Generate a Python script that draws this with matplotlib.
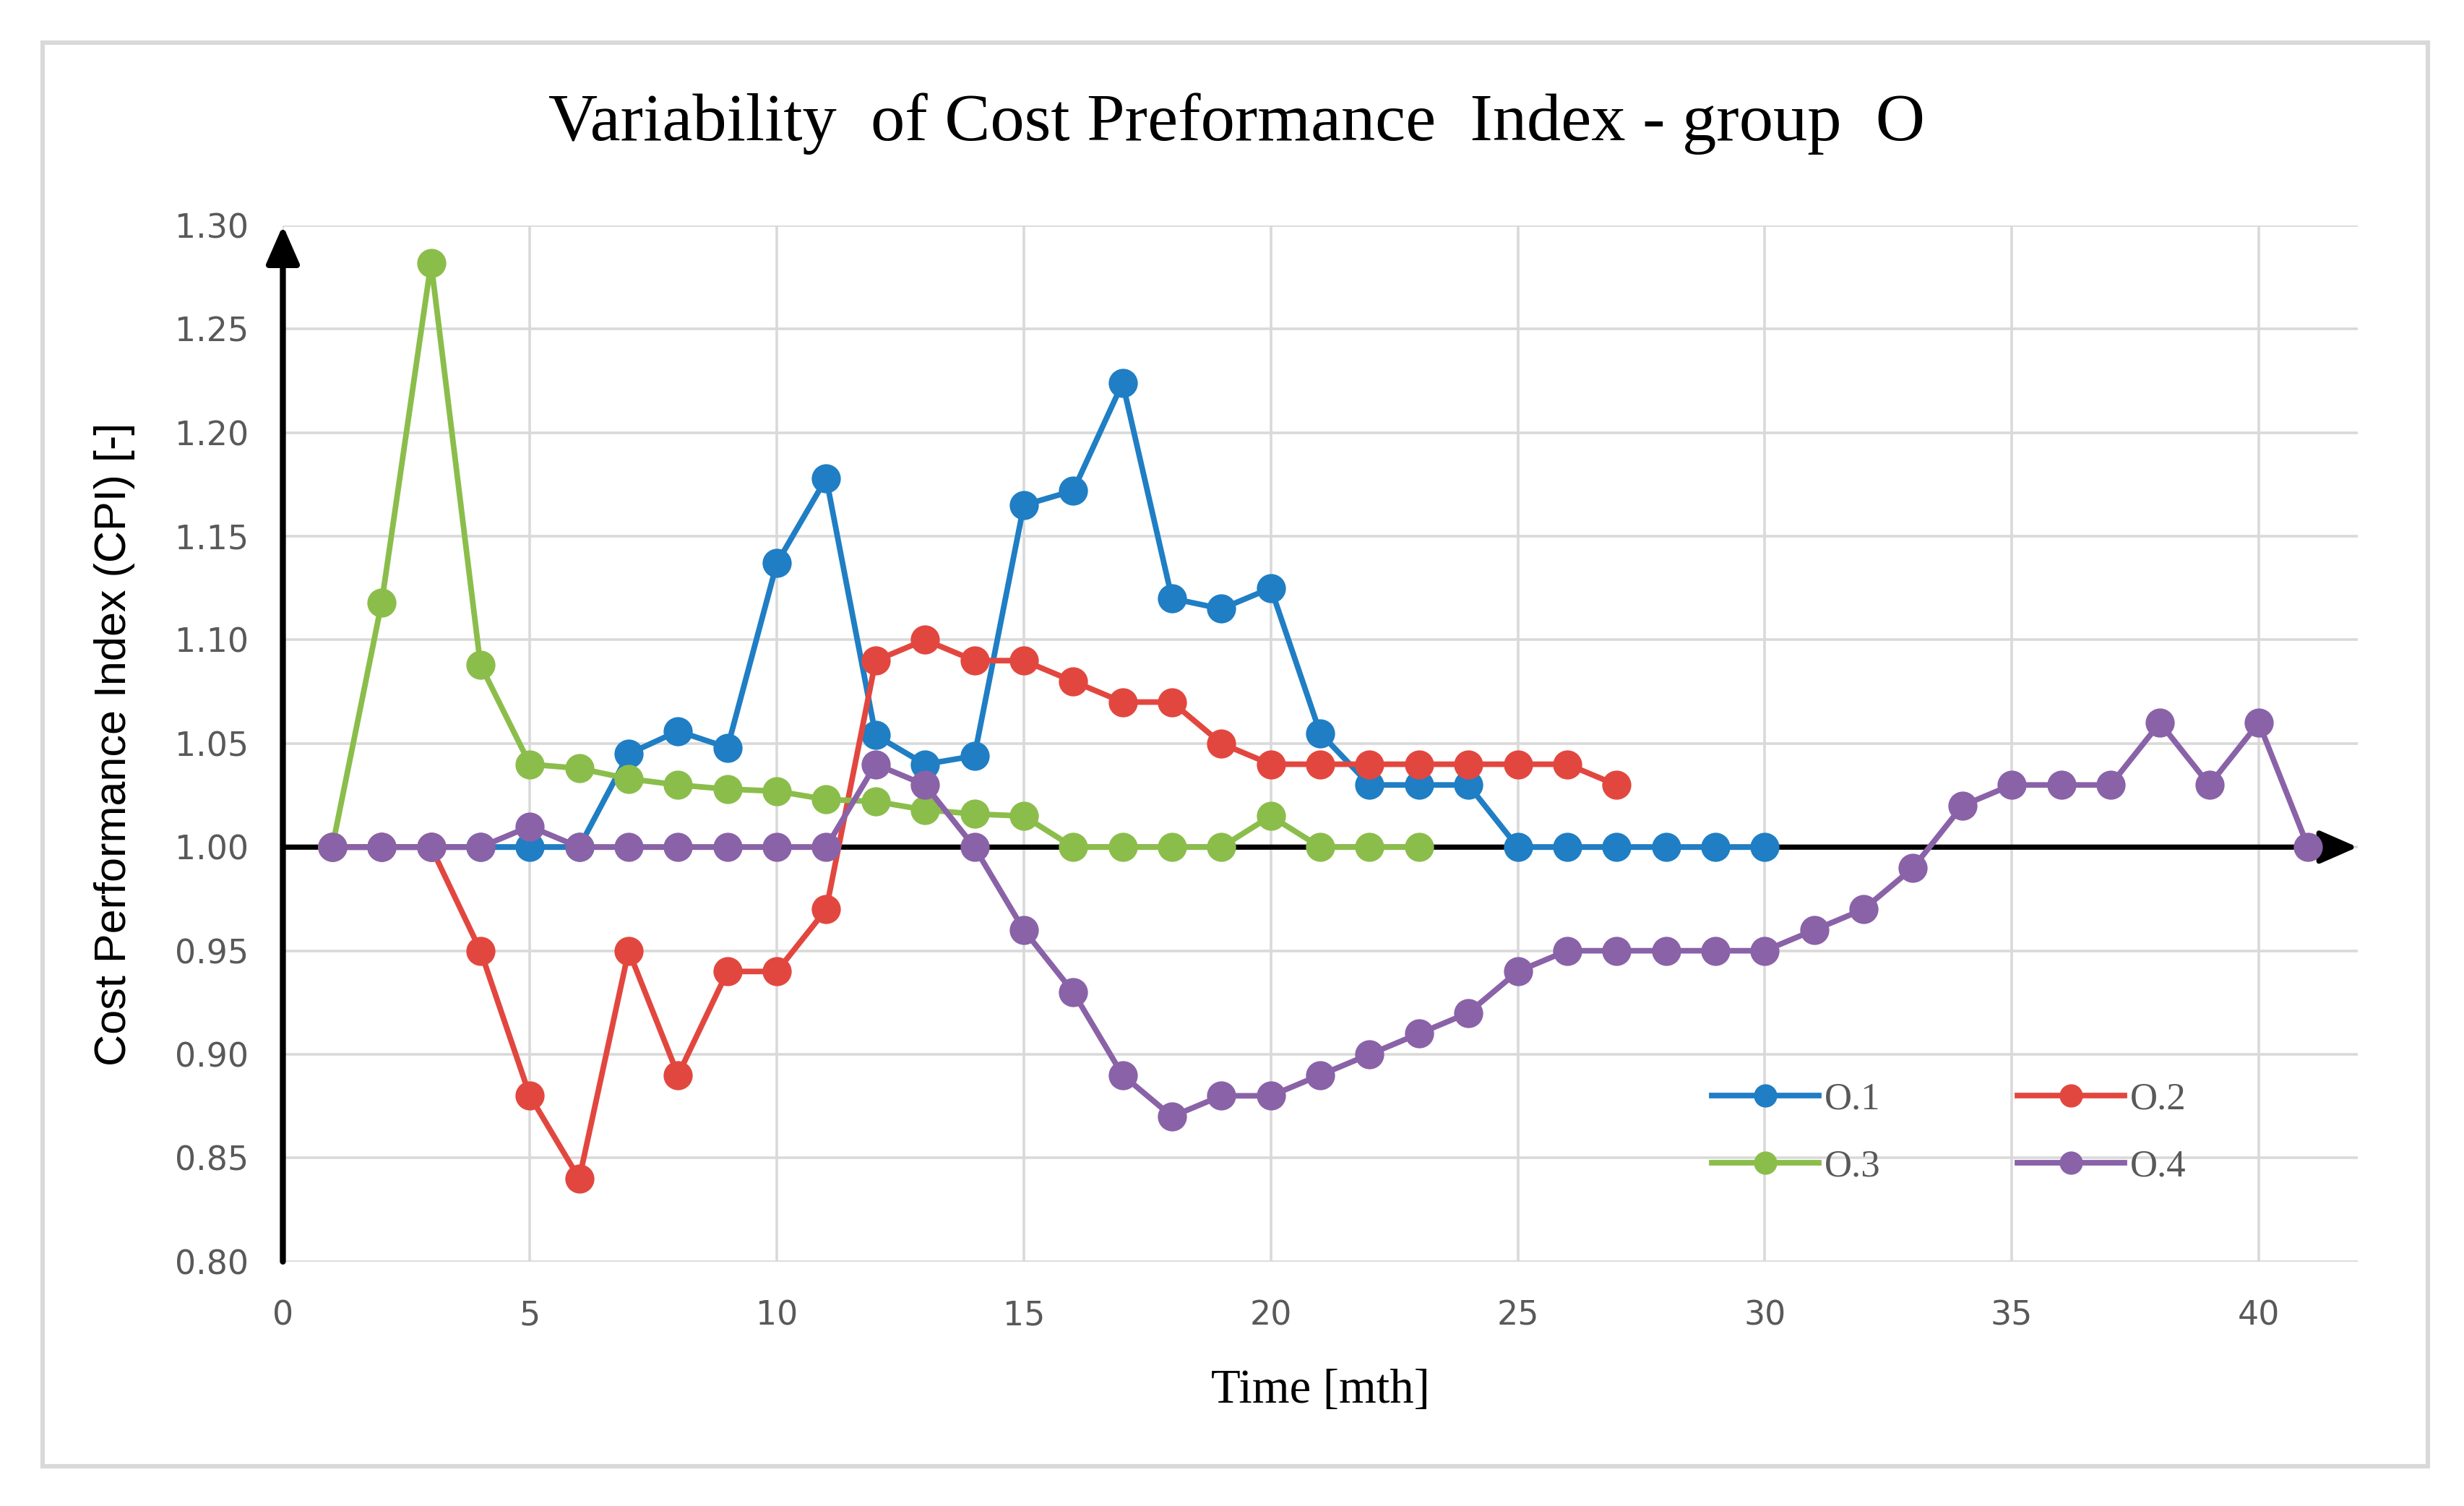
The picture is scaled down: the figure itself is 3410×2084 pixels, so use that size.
import matplotlib
matplotlib.use("Agg")
import matplotlib.pyplot as plt
from matplotlib.patches import Rectangle

# --- data ---
months_o1 = list(range(1, 31))
cpi_o1 = [1.00, 1.00, 1.00, 1.00, 1.00, 1.00, 1.045, 1.056, 1.048, 1.137,
          1.178, 1.054, 1.040, 1.044, 1.165, 1.172, 1.224, 1.120, 1.115, 1.125,
          1.055, 1.03, 1.03, 1.03, 1.00, 1.00, 1.00, 1.00, 1.00, 1.00]

months_o2 = list(range(1, 28))
cpi_o2 = [1.00, 1.00, 1.00, 0.95, 0.88, 0.84, 0.95, 0.89, 0.94, 0.94,
          0.97, 1.09, 1.10, 1.09, 1.09, 1.08, 1.07, 1.07, 1.05, 1.04,
          1.04, 1.04, 1.04, 1.04, 1.04, 1.04, 1.03]

months_o3 = list(range(1, 24))
cpi_o3 = [1.00, 1.118, 1.282, 1.088, 1.040, 1.038, 1.033, 1.030, 1.028, 1.027,
          1.023, 1.022, 1.018, 1.016, 1.015, 1.00, 1.00, 1.00, 1.00, 1.015,
          1.00, 1.00, 1.00]

months_o4 = list(range(1, 42))
cpi_o4 = [1.00, 1.00, 1.00, 1.00, 1.01, 1.00, 1.00, 1.00, 1.00, 1.00,
          1.00, 1.04, 1.03, 1.00, 0.96, 0.93, 0.89, 0.87, 0.88, 0.88,
          0.89, 0.90, 0.91, 0.92, 0.94, 0.95, 0.95, 0.95, 0.95, 0.95,
          0.96, 0.97, 0.99, 1.02, 1.03, 1.03, 1.03, 1.06, 1.03, 1.06,
          1.00]

series_labels = ["O.1", "O.2", "O.3", "O.4"]
series_colors = ["#1f7ec4", "#e2473f", "#8bbd4b", "#8a62a8"]

x_ticks = list(range(0, 45, 5))
y_ticks = [0.80, 0.85, 0.90, 0.95, 1.00, 1.05, 1.10, 1.15, 1.20, 1.25, 1.30]

fig = plt.figure(figsize=(17.05, 10.42), dpi=200)
ax = fig.add_axes([0.1148, 0.1623, 0.842, 0.688])

# outer chart border
fig.patches.append(Rectangle((0.0172, 0.0262), 0.968, 0.9455, transform=fig.transFigure,
                             fill=False, edgecolor="#d9d9d9", linewidth=2.2, zorder=0))

# axes arrows (drawn under the series)
ax.annotate("", xy=(42, 1.00), xytext=(0, 1.00),
            arrowprops=dict(arrowstyle="-|>,head_length=1.6,head_width=0.7",
                            color="black", lw=2.6, shrinkA=0, shrinkB=0),
            annotation_clip=False, zorder=2)
ax.annotate("", xy=(0, 1.30), xytext=(0, 0.80),
            arrowprops=dict(arrowstyle="-|>,head_length=1.6,head_width=0.7",
                            color="black", lw=3.0, shrinkA=0, shrinkB=0),
            annotation_clip=False, zorder=2)

all_x = [months_o1, months_o2, months_o3, months_o4]
all_y = [cpi_o1, cpi_o2, cpi_o3, cpi_o4]
handles = []
for xs, ys, lab, col in zip(all_x, all_y, series_labels, series_colors):
    h, = ax.plot(xs, ys, color=col, lw=2.8, marker="o", markersize=14.5,
                 markeredgewidth=0, label=lab, zorder=3, clip_on=False)
    handles.append(h)

ax.set_xlim(0, 42)
ax.set_ylim(0.80, 1.30)
ax.set_xticks(x_ticks)
ax.set_yticks(y_ticks)
ax.set_yticklabels([f"{v:.2f}" for v in y_ticks])
ax.grid(True, color="#d9d9d9", lw=1.3, zorder=0)
ax.set_axisbelow(True)
for s in ax.spines.values():
    s.set_visible(False)
ax.tick_params(axis="both", length=0, labelsize=16.5, labelcolor="#595959")
ax.tick_params(axis="y", pad=17)
ax.tick_params(axis="x", pad=19)
for lbl in ax.get_xticklabels() + ax.get_yticklabels():
    lbl.set_family("DejaVu Sans")

fig.text(0.502, 0.918, "Variability  of Cost Preformance  Index - group  O",
         ha="center", va="center", fontsize=34, family="Liberation Serif")
fig.text(0.536, 0.0764, "Time [mth]", ha="center", va="center",
         fontsize=24, family="Liberation Serif")
fig.text(0.0466, 0.506, "Cost Performance Index (CPI) [-]", ha="center", va="center",
         rotation=90, fontsize=22, family="Liberation Sans")

# row-wise legend order: O.1 O.2 / O.3 O.4
order = [0, 2, 1, 3]
leg = ax.legend([handles[i] for i in order], [series_labels[i] for i in order],
                loc="center", bbox_to_anchor=(0.803, 0.124), ncol=2, frameon=False,
                prop={"family": "Liberation Serif", "size": 19},
                handlelength=2.8, columnspacing=3.6, labelspacing=0.85,
                handletextpad=0.15, markerscale=0.8)
for t in leg.get_texts():
    t.set_color("#595959")

fig.savefig("out.png", dpi=200, facecolor="white")
